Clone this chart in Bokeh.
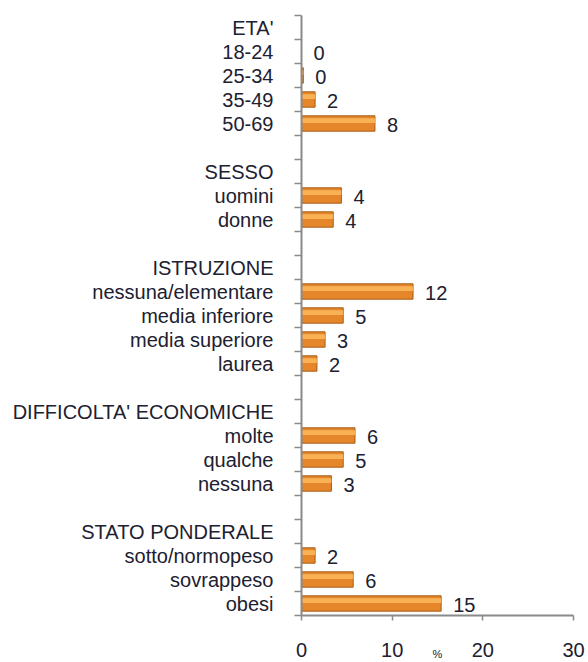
from bokeh.plotting import figure
from bokeh.models import Range1d, FixedTicker, ColumnDataSource
from bokeh.embed import file_html
from bokeh.resources import INLINE
from bokeh.core.properties import value

categories = ["ETA'", "18-24", "25-34", "35-49", "50-69", "",
              "SESSO", "uomini", "donne", "",
              "ISTRUZIONE", "nessuna/elementare", "media inferiore", "media superiore", "laurea", "",
              "DIFFICOLTA' ECONOMICHE", "molte", "qualche", "nessuna", "",
              "STATO PONDERALE", "sotto/normopeso", "sovrappeso", "obesi"]
values = [None, 0.0, 0.2, 1.5, 8.1, None,
          None, 4.4, 3.5, None,
          None, 12.3, 4.6, 2.6, 1.7, None,
          None, 5.9, 4.6, 3.3, None,
          None, 1.5, 5.7, 15.4]
value_labels = ["", "0", "0", "2", "8", "",
                "", "4", "4", "",
                "", "12", "5", "3", "2", "",
                "", "6", "5", "3", "",
                "", "2", "6", "15"]
x_ticks = [0, 10, 20, 30]
x_title = "%"

FONT = "Liberation Sans"
n = len(categories)
centers = [i + 0.5 for i in range(n)]
idx = [i for i, v in enumerate(values) if v is not None]
src = ColumnDataSource(dict(
    y=[centers[i] for i in idx],
    yh=[centers[i] - 0.12 for i in idx],
    x=[values[i] for i in idx],
    lab=[value_labels[i] for i in idx],
))

p = figure(width=588, height=662, output_backend="svg", toolbar_location=None,
           x_range=Range1d(0, 30), y_range=Range1d(n, 0),
           min_border_left=301, min_border_right=15, min_border_top=15, min_border_bottom=42)
p.outline_line_color = None
p.xgrid.visible = False
p.ygrid.visible = False
p.background_fill_color = "white"
p.border_fill_color = "white"

p.hbar(y="y", left=0, right="x", height=0.64, source=src,
       fill_color="#E5862A", line_color="#A85C18", line_width=1)
p.hbar(y="yh", left=0, right="x", height=0.2, source=src,
       fill_color="#F9B65A", line_color=None, fill_alpha=0.9)
p.text(x="x", y="y", text="lab", source=src, x_offset=12, y_offset=1,
       text_font=value(FONT), text_font_size="20px", text_color="#202030",
       text_align="left", text_baseline="middle")

# y axis
ya = p.yaxis[0]
ya.ticker = FixedTicker(ticks=centers, minor_ticks=list(range(n + 1)))
ya.major_label_overrides = {c: categories[i] for i, c in enumerate(centers)}
ya.major_tick_out = 0
ya.major_tick_in = 0
ya.minor_tick_out = 7
ya.minor_tick_in = 0
ya.minor_tick_line_color = "#8a8a8a"
ya.minor_tick_line_width = 1.5
ya.axis_line_color = "#8a8a8a"
ya.axis_line_width = 2
ya.major_label_standoff = 21
ya.major_label_text_font = FONT
ya.major_label_text_font_size = "20px"
ya.major_label_text_color = "#202030"

# x axis
xa = p.xaxis[0]
xa.ticker = FixedTicker(ticks=x_ticks, minor_ticks=[])
xa.major_tick_out = 5
xa.major_tick_in = 0
xa.major_tick_line_color = "#8a8a8a"
xa.major_tick_line_width = 1.5
xa.axis_line_color = "#8a8a8a"
xa.axis_line_width = 2
xa.major_label_standoff = 22
xa.major_label_text_font = FONT
xa.major_label_text_font_size = "20px"
xa.major_label_text_color = "#202030"
xa.axis_label = x_title
xa.axis_label_text_font = FONT
xa.axis_label_text_font_size = "11px"
xa.axis_label_text_font_style = "normal"
xa.axis_label_text_color = "#202030"
xa.axis_label_standoff = -12

open("out.html", "w").write(file_html(p, INLINE))
